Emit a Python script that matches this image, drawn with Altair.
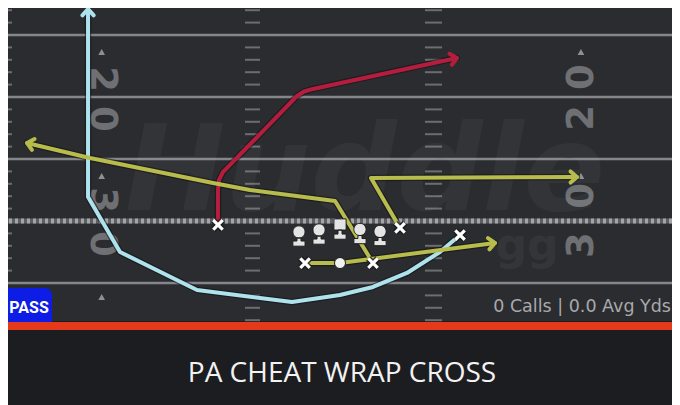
import math
import altair as alt
import pandas as pd

# ---------------- data (x: yards from left edge of view, y: yards to goal) ----------------
YARD_LINES = [15, 20, 25, 35]
LOS = [30]
HASH_YARDS = [13, 14, 16, 17, 18, 19, 21, 22, 23, 24, 26, 27, 28, 29, 31, 32, 33, 34, 36, 37, 38]
HASH_X1 = [0.0, 19.76, 34.27, 54.27]
HASH_X2 = [0.97, 20.97, 35.65, 55.2]

NUM_TEXT = ["2", "0", "3", "0", "0", "2", "0", "3"]
NUM_X = [8.2, 8.2, 8.2, 8.2, 46.9, 46.9, 46.9, 46.9]
NUM_Y = [18.55, 21.77, 28.31, 31.85, 18.39, 21.69, 27.98, 31.94]
NUM_SIDE = ["L", "L", "L", "L", "R", "R", "R", "R"]

ARROW_X = [8.2, 8.2, 8.2, 46.85, 46.85]
ARROW_Y = [16.37, 26.37, 36.13, 16.37, 26.37]

ROUTE_NAMES = ["wheel", "post", "drag", "corner", "flat"]
ROUTE_COLORS = ["#aee3ee", "#b51d3f", "#b7bc4c", "#b7bc4c", "#b7bc4c"]
ROUTE_X = [
    [37.10, 35.48, 32.82, 30.08, 27.42, 23.55, 15.89, 9.68, 7.10, 7.10],
    [17.58, 17.58, 17.66, 17.98, 18.55, 23.95, 24.52, 25.24, 36.85],
    [30.08, 27.02, 20.16, 17.18, 7.26, 2.18],
    [32.26, 29.92, 46.53],
    [24.60, 27.42, 39.92],
]
ROUTE_Y = [
    [31.13, 32.50, 34.19, 35.32, 35.97, 36.53, 35.56, 32.50, 28.06, 12.90],
    [30.32, 27.50, 26.69, 26.05, 25.48, 19.92, 19.56, 19.35, 16.85],
    [33.39, 28.39, 27.50, 26.94, 24.92, 23.71],
    [30.56, 26.53, 26.45],
    [33.39, 33.39, 31.77],
]

SKILL_X = [17.58, 24.60, 30.08, 32.26, 37.10]
SKILL_Y = [30.32, 33.39, 33.39, 30.56, 31.13]
OL_X = [24.11, 25.73, 27.42, 29.03, 30.65]
OL_Y = [31.21, 31.05, 30.65, 31.01, 31.17]
OL_KIND = ["G", "G", "C", "G", "G"]
QB_X = [27.42]
QB_Y = [33.39]

PLAY_NAME = "PA CHEAT WRAP CROSS"
BADGE = "PASS"
STATS = "0 Calls | 0.0 Avg Yds"

# ---------------- tables ----------------
hash_df = pd.DataFrame(
    [{"y": yd, "x": a, "x2": b} for yd in HASH_YARDS for a, b in zip(HASH_X1, HASH_X2)]
)
num_df = pd.DataFrame({"t": NUM_TEXT, "x": NUM_X, "y": NUM_Y, "side": NUM_SIDE})
arrow_df = pd.DataFrame({"x": ARROW_X, "y": ARROW_Y})

rows, tips = [], []
for name, xs_, ys_ in zip(ROUTE_NAMES, ROUTE_X, ROUTE_Y):
    for i, (x, y) in enumerate(zip(xs_, ys_)):
        rows.append({"route": name, "i": i, "x": x, "y": y})
    dx = xs_[-1] - xs_[-2]
    dy = ys_[-1] - ys_[-2]
    ang = math.degrees(math.atan2(dx, -dy)) % 360
    tips.append({"route": name, "x": xs_[-1], "y": ys_[-1], "angle": ang})
route_df = pd.DataFrame(rows)
tip_df = pd.DataFrame(tips)
skill_df = pd.DataFrame({"x": SKILL_X, "y": SKILL_Y})
ol_df = pd.DataFrame({"x": OL_X, "y": OL_Y, "kind": OL_KIND})
qb_df = pd.DataFrame({"x": QB_X, "y": QB_Y})
one = pd.DataFrame({"a": [0]})

W, H = 664, 313
xs = alt.Scale(domain=[0.645, 54.194], zero=False, nice=False)
ys = alt.Scale(domain=[12.823, 38.065], zero=False, nice=False, reverse=True)
X = lambda f="x": alt.X(f"{f}:Q", scale=xs, axis=None)
Y = lambda f="y": alt.Y(f"{f}:Q", scale=ys, axis=None)
route_color = alt.Color("route:N", scale=alt.Scale(domain=ROUTE_NAMES, range=ROUTE_COLORS), legend=None)

CHEVRON = "M -0.7,0.8 L 0,0 L 0.7,0.8"
XMARK = "M -1,-1 L 1,1 M -1,1 L 1,-1"
OL_G = ("M -0.545,-0.364 A 0.545,0.545 0 1,1 0.545,-0.364 A 0.545,0.545 0 1,1 -0.545,-0.364 Z "
        "M -0.18,0.18 L 0.18,0.18 L 0.18,0.45 L 0.545,0.45 L 0.545,0.91 L -0.545,0.91 L -0.545,0.45 L -0.18,0.45 Z")
OL_C = ("M -0.545,-0.91 L 0.545,-0.91 L 0.545,0.09 L -0.545,0.09 Z "
        "M -0.18,0.09 L 0.18,0.09 L 0.18,0.45 L 0.545,0.45 L 0.545,0.91 L -0.545,0.91 L -0.545,0.45 L -0.18,0.45 Z")

hashes = alt.Chart(hash_df).mark_rule(color="#6c6d71", strokeWidth=2).encode(
    x=X(), x2="x2:Q", y=Y())
yard_lines = alt.Chart(pd.DataFrame({"y": YARD_LINES})).mark_rule(
    color="#85868a", strokeWidth=2.5).encode(y=Y())
los_base = alt.Chart(pd.DataFrame({"y": LOS})).mark_rule(
    color="#5e5f63", strokeWidth=5).encode(y=Y())
los_dash = alt.Chart(pd.DataFrame({"y": LOS})).mark_rule(
    color="#a3a4a7", strokeWidth=5, strokeDash=[3, 3]).encode(y=Y())

nums_l = alt.Chart(num_df[num_df.side == "L"]).mark_text(
    font="DejaVu Sans", fontWeight="bold", fontSize=37, color="#6f7074",
    angle=90, align="center", baseline="middle").encode(x=X(), y=Y(), text="t:N")
nums_r = alt.Chart(num_df[num_df.side == "R"]).mark_text(
    font="DejaVu Sans", fontWeight="bold", fontSize=37, color="#6f7074",
    angle=270, align="center", baseline="middle").encode(x=X(), y=Y(), text="t:N")
dir_arrows = alt.Chart(arrow_df).mark_point(
    shape="triangle-up", filled=True, size=45, color="#8e8f93", opacity=1).encode(x=X(), y=Y())

wm1 = alt.Chart(one).mark_text(
    text="Huddle", font="DejaVu Sans", fontWeight="bold", fontStyle="italic", fontSize=120,
    color="#ffffff", opacity=0.035, align="center", baseline="alphabetic").encode(
    x=alt.value(357), y=alt.value(202))
wm2 = alt.Chart(one).mark_text(
    text="gg", font="DejaVu Sans", fontWeight="bold", fontSize=44,
    color="#ffffff", opacity=0.045, align="center", baseline="alphabetic").encode(
    x=alt.value(519), y=alt.value(252))

route_shadow = alt.Chart(route_df).mark_line(
    color="#121214", strokeWidth=6.5, opacity=0.55, strokeCap="round", strokeJoin="round").encode(
    x=X(), y=Y(), detail="route:N", order="i:Q")
routes = alt.Chart(route_df).mark_line(
    strokeWidth=4, strokeCap="round", strokeJoin="round").encode(
    x=X(), y=Y(), color=route_color, order="i:Q")
heads = alt.Chart(tip_df).mark_point(
    shape=CHEVRON, filled=False, size=256, strokeWidth=4, opacity=1,
    strokeCap="round", strokeJoin="round").encode(
    x=X(), y=Y(), color=route_color, angle=alt.Angle("angle:Q", scale=None))

ol = alt.Chart(ol_df).mark_point(
    filled=True, size=500, color="#e4e4e4", stroke="#1e1e20", strokeWidth=1, opacity=1).encode(
    x=X(), y=Y(),
    shape=alt.Shape("kind:N", scale=alt.Scale(domain=["G", "C"], range=[OL_G, OL_C]), legend=None))
qb = alt.Chart(qb_df).mark_point(
    shape="circle", filled=True, size=121, color="#f2f2f2", stroke="#1e1e20", strokeWidth=1, opacity=1).encode(
    x=X(), y=Y())
x_shadow = alt.Chart(skill_df).mark_point(
    shape=XMARK, filled=False, size=90, strokeWidth=6, color="#1a1a1c", opacity=0.8).encode(x=X(), y=Y())
x_marks = alt.Chart(skill_df).mark_point(
    shape=XMARK, filled=False, size=90, strokeWidth=3.2, color="#ffffff", opacity=1).encode(x=X(), y=Y())

badge = alt.Chart(one).mark_rect(color="#0d1de6", cornerRadiusTopRight=7).encode(
    x=alt.value(0), x2=alt.value(44), y=alt.value(280), y2=alt.value(314))
badge_text = alt.Chart(one).mark_text(
    text=BADGE, font="Roboto", fontWeight="bold", fontSize=16, color="#ffffff",
    align="center", baseline="alphabetic").encode(x=alt.value(21), y=alt.value(305))
stats = alt.Chart(one).mark_text(
    text=STATS, font="DejaVu Sans", fontSize=17.5, color="#a8a9ac",
    align="right", baseline="alphabetic").encode(x=alt.value(663), y=alt.value(304))
red_bar = alt.Chart(one).mark_rect(color="#e4391b").encode(
    x=alt.value(0), x2=alt.value(W), y=alt.value(314), y2=alt.value(322))
title = alt.Chart(one).mark_text(
    text=PLAY_NAME, font="Open Sans", fontSize=28, color="#f2f2f2",
    align="center", baseline="alphabetic").encode(x=alt.value(334), y=alt.value(374))

chart = alt.layer(
    hashes, yard_lines, los_base, los_dash, nums_l, nums_r, dir_arrows, wm1, wm2,
    route_shadow, routes, heads, ol, qb, x_shadow, x_marks,
    badge, badge_text, stats, red_bar, title,
).properties(
    width=W, height=H,
    autosize=alt.AutoSizeParams(type="none"),
    padding={"left": 0, "top": 0, "right": 0, "bottom": 84},
    background="#1c1d21",
).configure_view(fill="#2b2c2f", strokeWidth=0)

chart.save("out.html", embed_options={"renderer": "svg", "actions": False})
